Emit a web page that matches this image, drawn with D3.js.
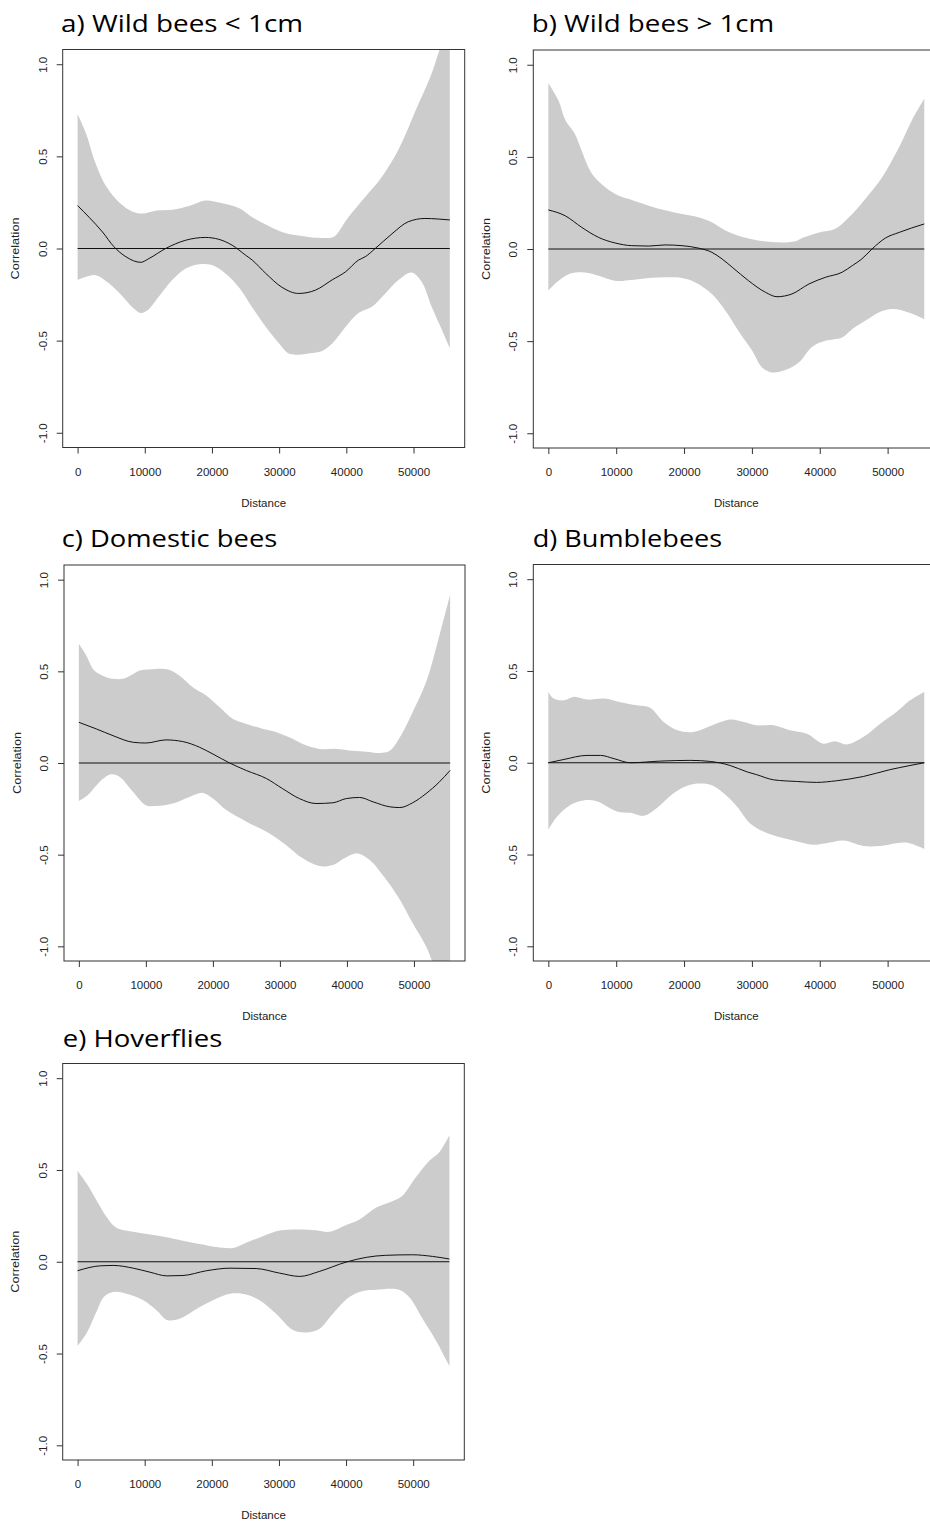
<!DOCTYPE html>
<html>
<head>
<meta charset="utf-8">
<script src="https://cdn.jsdelivr.net/npm/d3@7/dist/d3.min.js"></script>
<style>
  html, body { margin: 0; padding: 0; background: #ffffff; }
  svg { display: block; }
</style>
</head>
<body>
<svg id="chart" width="930" height="1521"></svg>
<script>
// ---------------- DATA ----------------
const distanceTicks = [0, 10000, 20000, 30000, 40000, 50000];
const correlationTicks = [-1, -0.5, 0, 0.5, 1];
const correlationTickLabels = ["-1.0", "-0.5", "0.0", "0.5", "1.0"];
const maxDistance = 55400;
const xAxisTitle = "Distance";
const yAxisTitle = "Correlation";
const panelTitles = ["a) Wild bees < 1cm", "b) Wild bees > 1cm", "c) Domestic bees", "d) Bumblebees", "e) Hoverflies"];

// a) Wild bees < 1cm
const aUpper = [[0,0.73],[1200,0.63],[2700,0.46],[4200,0.34],[6200,0.25],[8200,0.20],[9700,0.19],[11600,0.205],[14100,0.21],[16600,0.23],[19000,0.26],[21000,0.25],[24000,0.22],[26000,0.17],[28000,0.13],[30400,0.09],[32900,0.07],[34900,0.06],[37900,0.06],[38400,0.07],[40300,0.17],[42800,0.28],[45300,0.39],[47800,0.54],[50200,0.74],[52700,0.95],[53700,1.06],[55400,1.25]];
const aLower = [[0,-0.17],[1200,-0.154],[2700,-0.145],[4700,-0.19],[6700,-0.26],[8200,-0.32],[9400,-0.35],[10400,-0.335],[12100,-0.26],[14100,-0.17],[16100,-0.108],[18100,-0.085],[20000,-0.09],[22000,-0.135],[24000,-0.21],[26000,-0.32],[28000,-0.425],[30000,-0.516],[31400,-0.57],[32900,-0.576],[34900,-0.567],[36400,-0.556],[37900,-0.516],[39900,-0.425],[41800,-0.35],[43800,-0.316],[45800,-0.244],[47800,-0.17],[49700,-0.13],[51200,-0.18],[52700,-0.316],[54200,-0.44],[55400,-0.54]];
const aMean = [[0,0.233],[1700,0.17],[3700,0.09],[5400,0.01],[7200,-0.045],[9400,-0.075],[10600,-0.055],[13100,0.0],[16100,0.045],[19000,0.06],[21000,0.05],[23000,0.018],[25000,-0.036],[26000,-0.063],[28000,-0.135],[30400,-0.21],[32900,-0.244],[35400,-0.226],[37900,-0.17],[39900,-0.126],[41800,-0.063],[42800,-0.045],[44300,0.0],[46800,0.08],[49200,0.145],[51700,0.163],[53700,0.16],[55400,0.155]];

// b) Wild bees > 1cm
const bUpper = [[0,0.90],[1500,0.806],[2500,0.70],[3900,0.625],[4900,0.534],[6400,0.41],[8400,0.335],[10300,0.29],[12300,0.266],[14800,0.235],[17200,0.21],[19700,0.19],[22100,0.172],[24100,0.145],[26100,0.10],[28000,0.072],[30500,0.049],[33500,0.036],[36400,0.042],[37400,0.06],[39900,0.09],[42300,0.11],[44300,0.172],[46700,0.272],[49200,0.39],[51700,0.553],[53600,0.70],[55400,0.815]];
const bLower = [[0,-0.226],[1500,-0.172],[3400,-0.132],[5400,-0.128],[7400,-0.145],[9800,-0.172],[12300,-0.168],[14800,-0.157],[17200,-0.153],[19700,-0.157],[21600,-0.18],[24100,-0.244],[26100,-0.335],[28000,-0.443],[30000,-0.55],[31500,-0.643],[33000,-0.67],[34900,-0.657],[36900,-0.616],[38900,-0.53],[40800,-0.498],[43300,-0.48],[44800,-0.434],[46700,-0.39],[48700,-0.344],[50700,-0.326],[53100,-0.344],[55400,-0.38]];
const bMean = [[0,0.212],[2500,0.18],[4900,0.118],[7400,0.063],[9800,0.033],[12300,0.018],[14800,0.016],[17200,0.022],[19700,0.018],[22100,0.005],[24100,-0.018],[25600,-0.054],[27100,-0.099],[29500,-0.172],[32000,-0.235],[33700,-0.259],[35900,-0.244],[38400,-0.19],[40800,-0.154],[43300,-0.126],[44800,-0.09],[46200,-0.054],[47700,0.0],[49700,0.06],[51700,0.09],[55400,0.136]];

// c) Domestic bees
const cUpper = [[0,0.65],[1100,0.587],[2300,0.505],[4100,0.468],[5100,0.459],[6600,0.459],[8100,0.486],[9100,0.505],[10500,0.51],[13300,0.51],[15000,0.477],[17000,0.413],[19000,0.368],[21000,0.304],[23000,0.24],[25000,0.213],[27500,0.186],[29500,0.168],[31400,0.14],[33400,0.104],[35900,0.077],[38400,0.077],[40900,0.067],[42900,0.062],[44900,0.055],[46400,0.067],[47900,0.14],[49800,0.277],[51800,0.44],[53800,0.696],[55400,0.918]];
const cLower = [[0,-0.207],[1300,-0.176],[3100,-0.103],[4800,-0.062],[6100,-0.076],[8100,-0.158],[10000,-0.23],[11500,-0.235],[14000,-0.221],[16500,-0.185],[18500,-0.163],[20000,-0.194],[22000,-0.257],[25000,-0.32],[28000,-0.375],[30900,-0.447],[33400,-0.52],[35900,-0.562],[37900,-0.556],[39900,-0.514],[41600,-0.493],[43400,-0.529],[45900,-0.638],[47900,-0.746],[49800,-0.873],[51800,-1.0],[52800,-1.09],[55400,-1.34]];
const cMean = [[0,0.222],[2600,0.186],[5100,0.149],[8100,0.113],[10000,0.109],[13000,0.126],[15500,0.117],[18000,0.086],[20000,0.049],[22500,0.0],[25000,-0.041],[28000,-0.085],[30400,-0.14],[32900,-0.194],[35400,-0.221],[37900,-0.217],[39900,-0.194],[41900,-0.188],[43900,-0.212],[46400,-0.239],[47900,-0.243],[49800,-0.217],[51800,-0.167],[53800,-0.103],[55400,-0.04]];

// d) Bumblebees
const dUpper = [[0,0.386],[800,0.35],[2300,0.34],[3800,0.36],[5700,0.344],[8200,0.35],[10600,0.33],[13100,0.313],[15000,0.30],[17000,0.222],[19000,0.177],[21400,0.168],[23900,0.20],[26800,0.235],[28800,0.222],[30700,0.204],[33200,0.204],[35600,0.177],[38100,0.158],[40500,0.104],[42200,0.117],[44000,0.10],[46400,0.14],[48900,0.213],[51300,0.277],[53300,0.34],[55400,0.386]];
const dLower = [[0,-0.365],[1300,-0.293],[3300,-0.229],[5200,-0.205],[7200,-0.211],[10100,-0.265],[12100,-0.273],[14100,-0.289],[16000,-0.247],[18500,-0.165],[20900,-0.12],[23900,-0.12],[25800,-0.165],[27800,-0.238],[29700,-0.329],[31700,-0.375],[33700,-0.402],[36100,-0.424],[39100,-0.447],[41500,-0.435],[43500,-0.424],[46400,-0.453],[48900,-0.453],[51300,-0.438],[52800,-0.435],[55400,-0.47]];
const dMean = [[0,0.0],[2300,0.018],[5700,0.04],[7700,0.04],[9700,0.022],[12100,0.0],[16500,0.009],[20900,0.013],[23900,0.007],[26800,-0.015],[29300,-0.05],[30700,-0.065],[33200,-0.093],[36600,-0.102],[39500,-0.107],[42500,-0.098],[46400,-0.075],[50300,-0.038],[53300,-0.015],[55400,0.0]];

// e) Hoverflies
const eUpper = [[0,0.496],[1400,0.423],[2900,0.33],[4400,0.24],[5800,0.185],[8300,0.163],[10800,0.148],[13300,0.134],[15700,0.115],[18200,0.097],[20700,0.08],[23200,0.075],[25100,0.103],[27600,0.139],[30100,0.17],[32600,0.176],[35500,0.172],[37500,0.163],[40000,0.2],[42000,0.23],[44500,0.295],[46900,0.33],[48400,0.36],[50400,0.46],[52400,0.55],[53900,0.597],[55400,0.689]];
const eLower = [[0,-0.458],[1400,-0.385],[2900,-0.266],[3900,-0.192],[5300,-0.165],[7300,-0.174],[9800,-0.21],[11800,-0.266],[13300,-0.317],[15200,-0.311],[18200,-0.247],[20700,-0.2],[22700,-0.174],[25100,-0.178],[27100,-0.21],[29600,-0.284],[32100,-0.372],[34100,-0.385],[36000,-0.366],[38000,-0.284],[40500,-0.192],[42500,-0.159],[44500,-0.152],[47900,-0.152],[49400,-0.192],[51400,-0.311],[53400,-0.43],[55400,-0.568]];
const eMean = [[0,-0.049],[3400,-0.022],[5300,-0.02],[8300,-0.035],[10800,-0.057],[13300,-0.077],[15700,-0.075],[19200,-0.049],[22700,-0.035],[26600,-0.037],[30100,-0.062],[33100,-0.08],[36000,-0.053],[40000,-0.002],[43000,0.024],[45900,0.035],[49900,0.038],[52900,0.029],[55400,0.015]];

// ---------------- LAYOUT ----------------
const layout = [
  { left: 62.7,  top: 49.5,   width: 402, height: 398, titleX: 61,    titleY: 32.3,   titleLen: 242 },
  { left: 533.3, top: 50,     width: 406, height: 398, titleX: 531.7, titleY: 32.3,   titleLen: 242.6 },
  { left: 64,    top: 565,    width: 401, height: 396, titleX: 61.7,  titleY: 546.7,  titleLen: 215.6 },
  { left: 533.3, top: 564.5,  width: 406, height: 396.5, titleX: 532.7, titleY: 546.7, titleLen: 189.6 },
  { left: 62.7,  top: 1063.5, width: 401.6, height: 396.5, titleX: 62.7, titleY: 1046.7, titleLen: 159.7 }
];
const seriesSets = [
  [aUpper, aLower, aMean],
  [bUpper, bLower, bMean],
  [cUpper, cLower, cMean],
  [dUpper, dLower, dMean],
  [eUpper, eLower, eMean]
];

const svg = d3.select("#chart");
const axisFont = "'Liberation Sans', Arial, Helvetica, sans-serif";
const axisColor = "#222";

// R default: 4% extension of data range
const xPad = maxDistance * 0.04;
const xDomain = [0 - xPad, maxDistance + xPad];
const yDomain = [-1.08, 1.08];

layout.forEach((L, i) => {
  const [upper, lower, mean] = seriesSets[i];
  const x = d3.scaleLinear().domain(xDomain).range([L.left, L.left + L.width]);
  const y = d3.scaleLinear().domain(yDomain).range([L.top + L.height, L.top]);
  const g = svg.append("g");

  // title
  g.append("text")
    .attr("x", L.titleX).attr("y", L.titleY)
    .attr("font-family", "'Open Sans', 'Noto Sans', sans-serif")
    .attr("font-size", 24)
    .attr("fill", "#000")
    .attr("textLength", L.titleLen)
    .attr("lengthAdjust", "spacingAndGlyphs")
    .text(panelTitles[i]);

  // clip
  const clipId = "clip" + i;
  svg.append("clipPath").attr("id", clipId)
    .append("rect")
    .attr("x", L.left).attr("y", L.top)
    .attr("width", L.width).attr("height", L.height);

  const plot = g.append("g").attr("clip-path", `url(#${clipId})`);

  // confidence band: smooth upper edge forward, smooth lower edge backward, closed
  const edge = d3.line().x(d => x(d[0])).y(d => y(d[1])).curve(d3.curveCatmullRom.alpha(0.5));
  const upperPath = edge(upper);
  const lowerPath = edge(lower.slice().reverse());
  plot.append("path")
    .attr("d", upperPath + "L" + lowerPath.slice(1) + "Z")
    .attr("fill", "#cccccc")
    .attr("stroke", "none");

  // zero line
  plot.append("line")
    .attr("x1", x(0)).attr("x2", x(maxDistance))
    .attr("y1", y(0)).attr("y2", y(0))
    .attr("stroke", "#111").attr("stroke-width", 1);

  // mean correlogram line
  const meanLine = d3.line().x(d => x(d[0])).y(d => y(d[1])).curve(d3.curveMonotoneX);
  plot.append("path")
    .attr("d", meanLine(mean))
    .attr("fill", "none")
    .attr("stroke", "#111")
    .attr("stroke-width", 1);

  // box
  g.append("rect")
    .attr("x", L.left).attr("y", L.top)
    .attr("width", L.width).attr("height", L.height)
    .attr("fill", "none").attr("stroke", "#333").attr("stroke-width", 1);

  // x axis
  const xAxis = d3.axisBottom(x).tickValues(distanceTicks).tickSizeInner(6).tickSizeOuter(0).tickPadding(0).tickFormat(d3.format("d"));
  const xg = g.append("g").attr("transform", `translate(0,${L.top + L.height})`).call(xAxis);
  xg.select(".domain").remove();
  xg.selectAll(".tick line").attr("stroke", "#333");
  xg.selectAll(".tick text")
    .attr("y", 28).attr("dy", null)
    .attr("font-family", axisFont).attr("font-size", 11.5).attr("fill", axisColor);

  // y axis
  const yAxis = d3.axisLeft(y).tickValues(correlationTicks).tickSizeInner(6).tickSizeOuter(0).tickFormat((d, j) => correlationTickLabels[j]);
  const yg = g.append("g").attr("transform", `translate(${L.left},0)`).call(yAxis);
  yg.select(".domain").remove();
  yg.selectAll(".tick line").attr("stroke", "#333");
  yg.selectAll(".tick text")
    .attr("x", null).attr("dy", null)
    .attr("text-anchor", "middle")
    .attr("transform", "translate(-16,0) rotate(-90)")
    .attr("font-family", axisFont).attr("font-size", 11.5).attr("fill", axisColor);

  // axis titles
  g.append("text")
    .attr("x", L.left + L.width / 2)
    .attr("y", L.top + L.height + 59)
    .attr("text-anchor", "middle")
    .attr("font-family", axisFont).attr("font-size", 11.5).attr("fill", axisColor)
    .text(xAxisTitle);

  g.append("text")
    .attr("transform", `translate(${L.left - 43.5},${L.top + L.height / 2}) rotate(-90)`)
    .attr("text-anchor", "middle")
    .attr("font-family", axisFont).attr("font-size", 11.5).attr("fill", axisColor)
    .attr("textLength", 62).attr("lengthAdjust", "spacingAndGlyphs")
    .text(yAxisTitle);
});
</script>
</body>
</html>
